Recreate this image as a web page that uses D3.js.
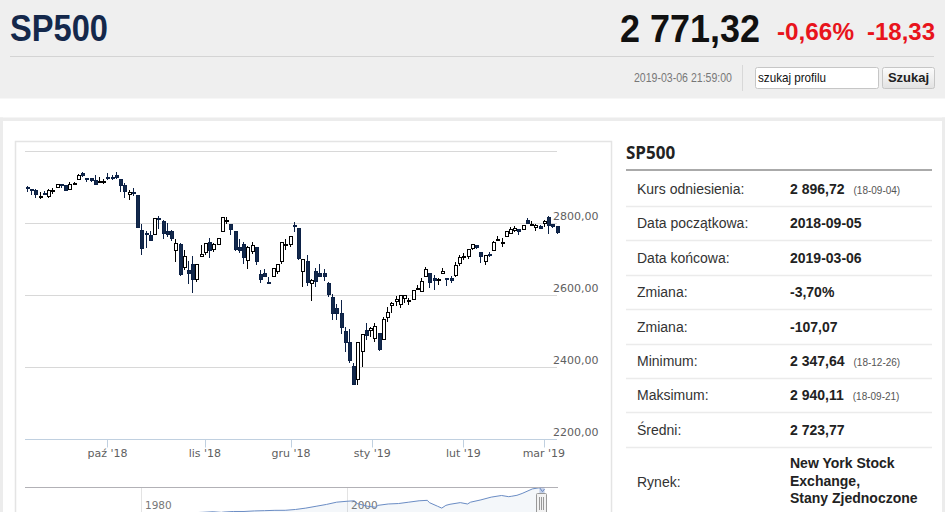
<!DOCTYPE html>
<html>
<head>
<meta charset="utf-8">
<script src="https://cdn.jsdelivr.net/npm/d3@7"></script>
<style>
  body { margin: 0; background: #fff; overflow: hidden; }
  svg { display: block; }
</style>
</head>
<body>
<div id="page"></div>
<script>
// notowania dzienne SP500, 2018-09-04 .. 2019-03-06
const dates = [
  "2018-09-04","2018-09-05","2018-09-06","2018-09-07","2018-09-10","2018-09-11","2018-09-12","2018-09-13","2018-09-14","2018-09-17",
  "2018-09-18","2018-09-19","2018-09-20","2018-09-21","2018-09-24","2018-09-25","2018-09-26","2018-09-27","2018-09-28",
  "2018-10-01","2018-10-02","2018-10-03","2018-10-04","2018-10-05","2018-10-08","2018-10-09","2018-10-10","2018-10-11","2018-10-12",
  "2018-10-15","2018-10-16","2018-10-17","2018-10-18","2018-10-19","2018-10-22","2018-10-23","2018-10-24","2018-10-25","2018-10-26",
  "2018-10-29","2018-10-30","2018-10-31",
  "2018-11-01","2018-11-02","2018-11-05","2018-11-06","2018-11-07","2018-11-08","2018-11-09","2018-11-12","2018-11-13","2018-11-14",
  "2018-11-15","2018-11-16","2018-11-19","2018-11-20","2018-11-21","2018-11-23","2018-11-26","2018-11-27","2018-11-28","2018-11-29","2018-11-30",
  "2018-12-03","2018-12-04","2018-12-06","2018-12-07","2018-12-10","2018-12-11","2018-12-12","2018-12-13","2018-12-14","2018-12-17",
  "2018-12-18","2018-12-19","2018-12-20","2018-12-21","2018-12-24","2018-12-26","2018-12-27","2018-12-28","2018-12-31",
  "2019-01-02","2019-01-03","2019-01-04","2019-01-07","2019-01-08","2019-01-09","2019-01-10","2019-01-11","2019-01-14","2019-01-15",
  "2019-01-16","2019-01-17","2019-01-18","2019-01-22","2019-01-23","2019-01-24","2019-01-25","2019-01-28","2019-01-29","2019-01-30","2019-01-31",
  "2019-02-01","2019-02-04","2019-02-05","2019-02-06","2019-02-07","2019-02-08","2019-02-11","2019-02-12","2019-02-13","2019-02-14",
  "2019-02-15","2019-02-19","2019-02-20","2019-02-21","2019-02-22","2019-02-25","2019-02-26","2019-02-27","2019-02-28",
  "2019-03-01","2019-03-04","2019-03-05","2019-03-06"
];
const opens = [
  2896.96,2891.59,2888.64,2868.26,2881.39,2871.57,2888.29,2896.85,2906.38,2903.83,2890.74,2906.60,2919.73,2936.76,2921.83,2921.75,2916.98,2911.65,2910.03,
  2926.29,2923.80,2931.69,2919.35,2902.54,2877.53,2882.51,2873.90,2776.87,2770.54,2763.83,2767.05,2811.67,2802.00,2775.66,2773.94,2721.03,2737.87,2674.88,2667.86,2682.65,2640.68,2705.60,
  2717.58,2745.45,2726.37,2738.40,2774.13,2806.38,2794.10,2773.93,2730.05,2737.90,2693.52,2718.54,2730.74,2654.60,2657.74,2633.36,2649.97,2663.75,2691.45,2736.97,2737.76,
  2790.50,2782.43,2663.51,2691.26,2630.86,2664.44,2658.23,2658.70,2629.68,2590.75,2559.90,2547.05,2496.77,2465.38,2400.56,2363.12,2442.50,2498.77,2498.94,
  2476.96,2491.92,2474.33,2535.61,2568.11,2580.00,2573.51,2588.11,2580.31,2585.10,2614.75,2609.28,2651.27,2657.88,2643.48,2638.84,2657.44,2644.97,2644.89,2653.62,2685.49,
  2702.32,2706.49,2728.34,2735.05,2717.53,2692.36,2712.40,2722.61,2750.30,2743.50,2760.24,2769.28,2779.05,2780.67,2780.24,2804.35,2792.36,2787.50,2788.11,
  2798.22,2814.37,2794.41,2790.27
];
const highs = [
  2900.18,2894.21,2892.05,2883.81,2886.93,2892.52,2894.65,2906.76,2908.30,2904.65,2911.17,2912.36,2934.80,2940.11,2923.79,2923.95,2931.15,2927.22,2920.53,
  2937.06,2931.42,2939.86,2919.78,2909.64,2889.45,2894.83,2874.02,2795.14,2775.77,2775.99,2813.46,2816.94,2806.04,2797.77,2778.94,2753.59,2742.59,2722.70,2692.38,2706.85,2685.43,2736.69,
  2741.67,2756.55,2744.27,2756.82,2815.15,2814.75,2794.10,2775.99,2754.60,2746.80,2735.38,2746.75,2733.16,2669.44,2670.73,2647.55,2674.35,2682.53,2744.00,2753.75,2760.88,
  2800.18,2785.93,2696.15,2708.54,2642.42,2674.35,2685.44,2670.19,2635.07,2601.13,2573.99,2585.29,2509.63,2504.41,2410.34,2467.76,2489.10,2520.27,2509.24,
  2519.49,2493.14,2538.07,2566.16,2579.82,2595.32,2597.82,2596.27,2589.32,2613.08,2625.76,2645.06,2675.47,2657.88,2653.19,2647.20,2672.38,2644.97,2650.93,2690.44,2708.95,
  2716.66,2724.99,2738.98,2738.08,2719.32,2708.07,2718.05,2748.19,2761.85,2757.90,2775.66,2787.33,2789.88,2781.58,2794.20,2813.49,2803.12,2795.76,2793.73,
  2808.02,2816.88,2796.44,2790.27
];
const lows = [
  2885.13,2876.92,2867.29,2864.12,2875.94,2866.78,2879.20,2896.39,2895.77,2886.16,2890.43,2903.82,2919.73,2927.11,2912.63,2913.70,2903.28,2909.27,2907.50,
  2917.91,2919.37,2921.36,2883.92,2869.29,2862.08,2874.27,2784.86,2710.51,2729.44,2749.03,2766.91,2781.81,2755.18,2760.27,2749.22,2691.43,2651.89,2667.84,2628.16,2603.54,2635.34,2705.60,
  2708.85,2700.44,2717.94,2737.08,2774.13,2794.99,2764.24,2722.00,2714.98,2685.75,2670.75,2712.16,2681.09,2631.52,2649.82,2631.09,2649.97,2655.89,2684.38,2722.94,2732.76,
  2773.38,2697.18,2621.53,2623.14,2583.23,2621.30,2650.26,2637.27,2593.84,2530.54,2528.71,2488.96,2441.18,2408.55,2351.10,2347.64,2397.94,2472.89,2482.82,
  2467.47,2443.96,2474.33,2524.56,2547.56,2568.89,2562.02,2577.40,2570.41,2585.10,2612.68,2606.36,2647.58,2617.27,2612.86,2627.01,2657.33,2624.06,2631.05,2648.34,2678.65,
  2696.88,2698.75,2724.03,2726.27,2687.26,2681.83,2703.79,2722.61,2748.63,2731.23,2760.24,2767.29,2774.06,2764.55,2779.11,2794.99,2789.47,2775.13,2782.51,
  2787.38,2767.66,2785.58,2768.69
];
const closes = [
  2896.72,2888.60,2878.05,2871.68,2877.13,2887.89,2888.92,2904.18,2904.98,2888.80,2904.31,2907.95,2930.75,2929.67,2919.37,2915.56,2905.97,2914.00,2913.98,
  2924.59,2923.43,2925.51,2901.61,2885.57,2884.43,2880.34,2785.68,2728.37,2767.13,2750.79,2809.92,2809.21,2768.78,2767.78,2755.88,2740.69,2656.10,2705.57,2658.69,2641.25,2682.63,2711.74,
  2740.37,2723.06,2738.31,2755.45,2813.89,2806.83,2781.01,2726.22,2722.18,2701.58,2730.20,2736.27,2690.73,2641.89,2649.93,2632.56,2673.45,2682.17,2743.79,2737.76,2760.17,
  2790.37,2700.06,2695.95,2633.08,2637.72,2636.78,2651.07,2650.54,2599.95,2545.94,2546.16,2506.96,2467.42,2416.62,2351.10,2467.70,2488.83,2485.74,2506.85,
  2510.03,2447.89,2531.94,2549.69,2574.41,2584.96,2596.64,2596.26,2582.61,2610.30,2616.10,2635.96,2670.71,2632.90,2638.70,2642.33,2664.76,2643.85,2640.00,2681.05,2704.10,
  2706.53,2724.87,2737.70,2731.61,2706.05,2707.88,2709.80,2744.73,2753.03,2745.73,2775.60,2779.76,2784.70,2774.88,2792.67,2796.11,2793.90,2792.38,2784.49,
  2803.69,2792.81,2789.65,2771.32
];

// osie
const yTicks = [2200, 2400, 2600, 2800, 3000];
const yLabels = ["2200,00", "2400,00", "2600,00", "2800,00"];
const monthStarts = ["2018-10-01", "2018-11-01", "2018-12-01", "2019-01-01", "2019-02-01", "2019-03-01"];
const monthLabels = ["paź '18", "lis '18", "gru '18", "sty '19", "lut '19", "mar '19"];

// nawigator - cała historia (wartości przybliżone)
const navYears = [1969,1970,1971,1972,1973,1974,1975,1976,1977,1978,1979,1980,1981,1982,1983,1984,1985,1986,1987,1987.8,
  1988,1989,1990,1991,1992,1993,1994,1995,1996,1997,1998,1999,2000,2000.7,2001,2002,2002.8,2003,2004,2005,2006,2007,2007.8,
  2008,2008.8,2009.2,2009.6,2010,2011,2011.7,2012,2013,2014,2015,2015.7,2016,2016.5,2017,2018,2018.7,2018.98,2019.18];
const navValues = [100,85,100,115,105,75,90,105,95,95,105,120,125,115,160,165,190,240,300,230,
  265,330,330,390,420,455,460,550,700,900,1100,1350,1450,1500,1200,900,800,1000,1150,1200,1350,1500,1550,
  1300,900,700,1000,1120,1300,1150,1350,1600,1900,2080,1950,2000,2100,2300,2800,2930,2500,2790];
const navTickYears = [1980, 2000];

// tabela
const infoLabels = ["Kurs odniesienia:", "Data początkowa:", "Data końcowa:", "Zmiana:", "Zmiana:", "Minimum:", "Maksimum:", "Średni:"];
const infoValues = ["2 896,72", "2018-09-05", "2019-03-06", "-3,70%", "-107,07", "2 347,64", "2 940,11", "2 723,77"];
const infoNotes = ["(18-09-04)", "", "", "", "", "(18-12-26)", "(18-09-21)", ""];
const marketLines = ["New York Stock", "Exchange,", "Stany Zjednoczone"];

const W = 945, H = 512;
const svg = d3.select("#page").append("svg").attr("width", W).attr("height", H);
const narrow = "'Liberation Sans Narrow', 'Liberation Sans', Arial, sans-serif";
const arial = "'Liberation Sans', Arial, sans-serif";
const axisFont = "'DejaVu Sans', Verdana, sans-serif";

// ---- nagłówek
svg.append("rect").attr("width", W).attr("height", 98.5).attr("fill", "#efefef");
svg.append("text").attr("x", 10).attr("y", 41).text("SP500")
  .attr("font-family", narrow).attr("font-weight", "bold").attr("font-size", 36)
  .attr("fill", "#14284b").attr("textLength", 98).attr("lengthAdjust", "spacingAndGlyphs");
svg.append("text").attr("x", 620).attr("y", 42).text("2 771,32")
  .attr("font-family", narrow).attr("font-weight", "bold").attr("font-size", 38)
  .attr("fill", "#111").attr("textLength", 140).attr("lengthAdjust", "spacingAndGlyphs");
svg.append("text").attr("x", 777).attr("y", 40).text("-0,66%")
  .attr("font-family", narrow).attr("font-weight", "bold").attr("font-size", 24)
  .attr("fill", "#e8141c").attr("textLength", 77).attr("lengthAdjust", "spacingAndGlyphs");
svg.append("text").attr("x", 867).attr("y", 40).text("-18,33")
  .attr("font-family", narrow).attr("font-weight", "bold").attr("font-size", 24)
  .attr("fill", "#e8141c").attr("textLength", 68).attr("lengthAdjust", "spacingAndGlyphs");
svg.append("line").attr("x1", 10).attr("x2", 934).attr("y1", 56.5).attr("y2", 56.5).attr("stroke", "#d4d4d4");

svg.append("text").attr("x", 732).attr("y", 82).attr("text-anchor", "end").text("2019-03-06 21:59:00")
  .attr("font-family", narrow).attr("font-size", 12).attr("fill", "#777")
  .attr("textLength", 98).attr("lengthAdjust", "spacingAndGlyphs");
svg.append("line").attr("x1", 742.5).attr("x2", 742.5).attr("y1", 65).attr("y2", 91).attr("stroke", "#d8d8d8");
svg.append("rect").attr("x", 755.5).attr("y", 67.5).attr("width", 123).attr("height", 21).attr("rx", 2)
  .attr("fill", "#fff").attr("stroke", "#c6c6c6");
svg.append("text").attr("x", 758).attr("y", 82).text("szukaj profilu")
  .attr("font-family", narrow).attr("font-size", 13).attr("fill", "#111")
  .attr("textLength", 68).attr("lengthAdjust", "spacingAndGlyphs");
const grad = svg.append("defs").append("linearGradient").attr("id", "btn").attr("x1", 0).attr("x2", 0).attr("y1", 0).attr("y2", 1);
grad.append("stop").attr("offset", 0).attr("stop-color", "#fcfcfc");
grad.append("stop").attr("offset", 1).attr("stop-color", "#e2e2e2");
svg.append("rect").attr("x", 882.5).attr("y", 67.5).attr("width", 52).attr("height", 21).attr("rx", 2)
  .attr("fill", "url(#btn)").attr("stroke", "#c6c6c6");
svg.append("text").attr("x", 908.5).attr("y", 82).attr("text-anchor", "middle").text("Szukaj")
  .attr("font-family", narrow).attr("font-weight", "bold").attr("font-size", 13).attr("fill", "#222");

// ---- ramki treści
svg.append("rect").attr("x", 0).attr("y", 117.5).attr("width", W).attr("height", 3.5).attr("fill", "#ececec");
svg.append("rect").attr("x", 0).attr("y", 117.5).attr("width", 3).attr("height", H).attr("fill", "#ececec");
svg.append("rect").attr("x", 942).attr("y", 117.5).attr("width", 3).attr("height", H).attr("fill", "#ececec");
svg.append("rect").attr("x", 15.5).attr("y", 141.5).attr("width", 596).attr("height", 420)
  .attr("fill", "#fff").attr("stroke", "#e4e4e4").attr("stroke-width", 1.5);

// ---- wykres świecowy
const parse = d3.timeParse("%Y-%m-%d");
const x = d3.scalePoint().domain(dates).range([27, 556.6]);
const step = x.step();
const y = d3.scaleLinear().domain([2200, 3000]).range([438.5, 150.5]);
const plotL = 25, plotR = 557;

const chart = svg.append("g");
chart.selectAll(".grid").data(yTicks.filter(d => d > 2200)).enter().append("line")
  .attr("x1", plotL).attr("x2", plotR)
  .attr("y1", d => Math.round(y(d)) + 0.5).attr("y2", d => Math.round(y(d)) + 0.5)
  .attr("stroke", "#d8d8d8");
chart.selectAll(".ylab").data(yLabels).enter().append("text")
  .attr("x", 553).attr("y", (d, i) => y(yTicks[i]) - 2.5).text(d => d)
  .attr("font-family", axisFont).attr("font-size", 11).attr("fill", "#606060");

// pozycje znaczników miesięcy na osi porządkowej
function monthX(s) {
  const t = parse(s);
  const i = dates.findIndex(d => parse(d) >= t);
  if (dates[i] === s) return x(dates[i]);
  const a = parse(dates[i - 1]), b = parse(dates[i]);
  return x(dates[i - 1]) + step * (t - a) / (b - a);
}
const axisY = Math.round(y(2200)) + 0.5;
chart.append("line").attr("x1", plotL).attr("x2", plotR).attr("y1", axisY).attr("y2", axisY).attr("stroke", "#c0d0e0");
chart.selectAll(".tick").data(monthStarts).enter().append("line")
  .attr("x1", d => Math.round(monthX(d)) + 0.5).attr("x2", d => Math.round(monthX(d)) + 0.5)
  .attr("y1", axisY).attr("y2", axisY + 8).attr("stroke", "#c0d0e0");
chart.selectAll(".xlab").data(monthLabels).enter().append("text")
  .attr("x", (d, i) => monthX(monthStarts[i])).attr("y", 457).attr("text-anchor", "middle").text(d => d)
  .attr("font-family", axisFont).attr("font-size", 11).attr("fill", "#606060");

const candles = chart.selectAll(".candle").data(dates).enter().append("g")
  .attr("shape-rendering", "crispEdges");
candles.append("line")
  .attr("x1", d => Math.round(x(d)) + 0.5).attr("x2", d => Math.round(x(d)) + 0.5)
  .attr("y1", (d, i) => y(highs[i])).attr("y2", (d, i) => y(lows[i]))
  .attr("stroke", (d, i) => closes[i] >= opens[i] ? "#000" : "#0c2146");
candles.append("rect")
  .attr("x", d => Math.round(x(d)) - 1)
  .attr("width", 3)
  .attr("y", (d, i) => y(Math.max(opens[i], closes[i])))
  .attr("height", (d, i) => Math.max(1, Math.abs(y(opens[i]) - y(closes[i]))))
  .attr("fill", (d, i) => closes[i] >= opens[i] ? "#fff" : "#13294b")
  .attr("stroke", (d, i) => closes[i] >= opens[i] ? "#000" : "#0c2146");

// ---- nawigator
const navX = d3.scaleLinear().domain([1980, 2000]).range([141, 347]);
const navY = d3.scaleLinear().domain([0, 2900]).range([514.5, 488]);
const nav = svg.append("g");
nav.selectAll(".ngrid").data(navTickYears).enter().append("line")
  .attr("x1", d => Math.round(navX(d)) + 0.5).attr("x2", d => Math.round(navX(d)) + 0.5)
  .attr("y1", 487.5).attr("y2", H).attr("stroke", "#e3e3e3");
nav.selectAll(".nlab").data(navTickYears).enter().append("text")
  .attr("x", d => navX(d) + 4).attr("y", 508.5).text(d => d)
  .attr("font-family", axisFont).attr("font-size", 10.5).attr("fill", "#777");
const navPts = navYears.map((t, i) => [t, navValues[i]]);
nav.append("path").datum(navPts)
  .attr("d", d3.area().x(d => navX(d[0])).y0(H + 5).y1(d => navY(d[1])))
  .attr("fill", "rgba(69,114,167,0.06)");
nav.append("path").datum(navPts)
  .attr("d", d3.line().x(d => navX(d[0])).y(d => navY(d[1])))
  .attr("fill", "none").attr("stroke", "#6a8cc4").attr("stroke-width", 1);
nav.append("line").attr("x1", plotL).attr("x2", 558).attr("y1", 487.5).attr("y2", 487.5).attr("stroke", "#b2b1b6");
const selA = navX(2018.68), selB = navX(2019.18);
nav.append("rect").attr("x", selA).attr("y", 487.5).attr("width", selB - selA).attr("height", 30)
  .attr("fill", "rgba(102,133,194,0.35)");
const hx = Math.round(selB) - 3;
nav.append("rect").attr("x", hx - 5.5).attr("y", 493.5).attr("width", 10).attr("height", 22).attr("rx", 1)
  .attr("fill", "#f2f2f2").attr("stroke", "#999");
[-2, 0, 2].forEach(o => nav.append("line")
  .attr("x1", hx + o - 0.5).attr("x2", hx + o - 0.5).attr("y1", 497).attr("y2", 510)
  .attr("stroke", "#999"));

// ---- tabela
const tab = svg.append("g");
tab.append("text").attr("x", 626).attr("y", 159).text("SP500")
  .attr("font-family", "'Open Sans', sans-serif").attr("font-weight", "bold").attr("font-size", 17).attr("fill", "#222");
tab.append("line").attr("x1", 626).attr("x2", 932).attr("y1", 170).attr("y2", 170).attr("stroke", "#aaa").attr("stroke-width", 2);
const rowY = i => 189 + i * 34.4;
tab.selectAll(".sep").data(d3.range(8)).enter().append("line")
  .attr("x1", 626).attr("x2", 932)
  .attr("y1", i => Math.round(rowY(i) + 17) + 0.5).attr("y2", i => Math.round(rowY(i) + 17) + 0.5)
  .attr("stroke", "#ebebeb").attr("stroke-width", 1.5);
tab.selectAll(".lab").data(infoLabels).enter().append("text")
  .attr("x", 637).attr("y", (d, i) => rowY(i) + 5).text(d => d)
  .attr("font-family", arial).attr("font-size", 14).attr("fill", "#333");
const vals = tab.selectAll(".val").data(infoValues).enter().append("text")
  .attr("x", 790).attr("y", (d, i) => rowY(i) + 5).text(d => d)
  .attr("font-family", arial).attr("font-weight", "bold").attr("font-size", 14).attr("fill", "#222");
vals.each(function(d, i) {
  if (!infoNotes[i]) return;
  const w = this.getComputedTextLength();
  tab.append("text").attr("x", 790 + w + 9).attr("y", rowY(i) + 5).text(infoNotes[i])
    .attr("font-family", arial).attr("font-size", 10).attr("fill", "#555");
});
tab.append("text").attr("x", 637).attr("y", 487).text("Rynek:")
  .attr("font-family", arial).attr("font-size", 14).attr("fill", "#333");
tab.selectAll(".mkt").data(marketLines).enter().append("text")
  .attr("x", 790).attr("y", (d, i) => 468 + i * 17.5).text(d => d)
  .attr("font-family", arial).attr("font-weight", "bold").attr("font-size", 14).attr("fill", "#222");
</script>
</body>
</html>
